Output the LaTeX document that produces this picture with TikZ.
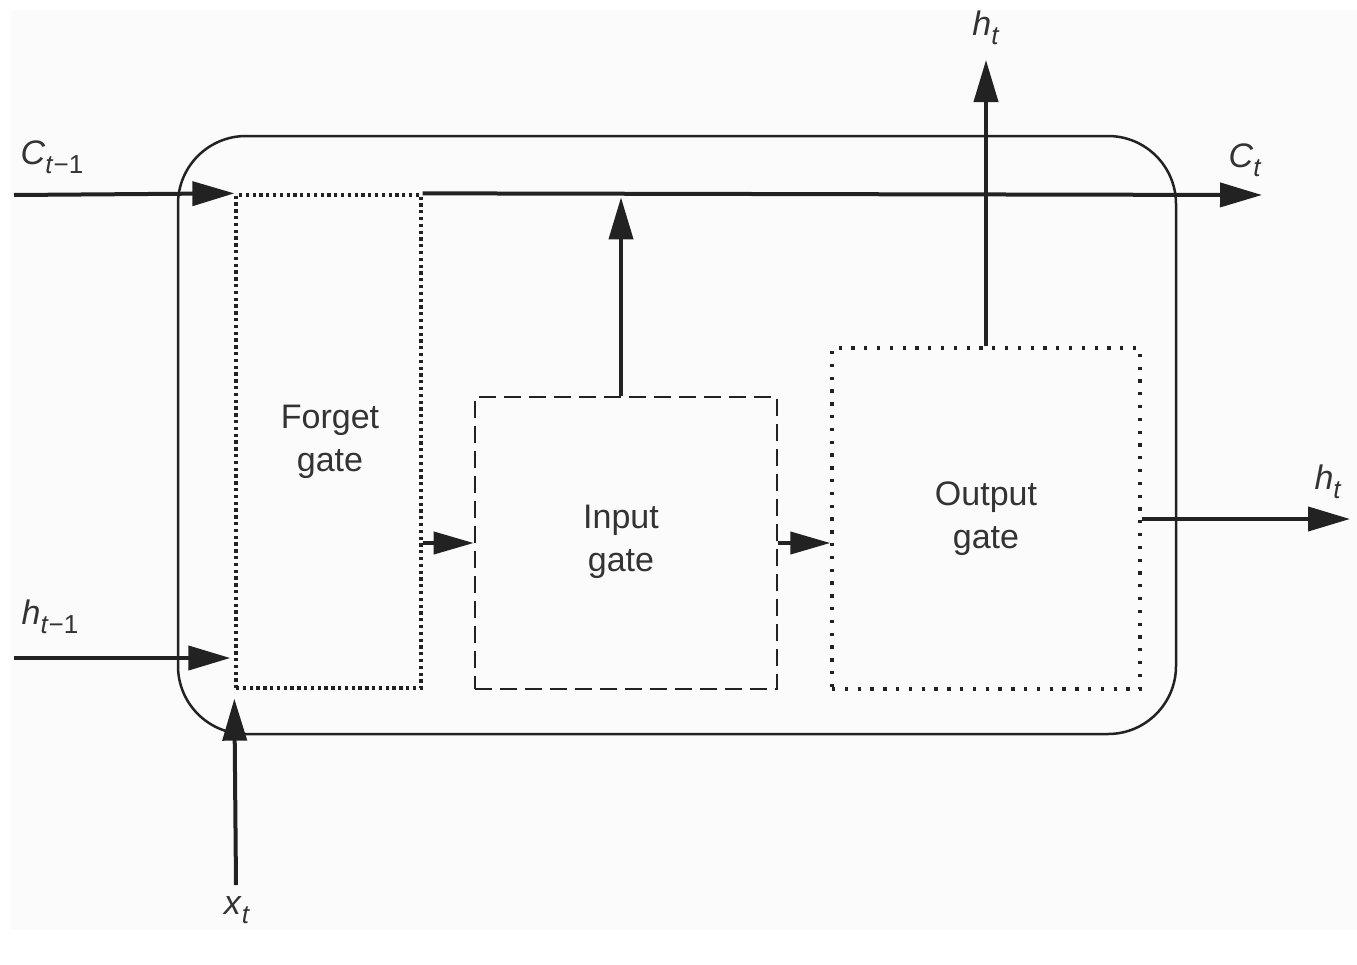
\documentclass[tikz,border=0pt]{standalone}
\usepackage{fontspec}
\setmainfont{Liberation Sans}
\usetikzlibrary{arrows.meta}
\definecolor{ink}{HTML}{222222}
\definecolor{txt}{HTML}{333333}
\definecolor{bg}{HTML}{FBFBFB}
\newcommand\mylbl[2]{\textit{#1}\raisebox{-9pt}{\fontsize{26}{26}\selectfont #2}}
\begin{document}
\begin{tikzpicture}[x=1pt,y=-1pt,
  arr/.style={draw=ink,line width=4pt,-{Triangle[length=42pt,width=24pt]}},
  sarr/.style={draw=ink,line width=4pt,-{Triangle[length=40pt,width=22pt]}},
  gatetxt/.style={font=\fontsize{34}{43}\selectfont,text=txt,align=center},
  forgetbox/.style={draw=ink,line width=3.3pt,dash pattern=on 3.3pt off 3.5pt,minimum width=185pt,minimum height=493pt,inner sep=0pt},
  inputbox/.style={draw=ink,line width=2.6pt,dash pattern=on 17pt off 8pt,minimum width=302pt,minimum height=292pt,inner sep=0pt},
  outputbox/.style={draw=ink,line width=3.3pt,dash pattern=on 3.3pt off 9.5pt,minimum width=308pt,minimum height=341pt,inner sep=0pt},
  cellbox/.style={draw=ink,line width=2.5pt,rounded corners=68pt,minimum width=998pt,minimum height=598pt,inner sep=0pt},
  lbl/.style={font=\fontsize{34}{34}\selectfont,text=txt,inner sep=0pt}]
\useasboundingbox (0,0) rectangle (1357,964);
\fill[bg] (11,10) rectangle (1357,930);
\node[cellbox] (cell) at (677,435) {};
\node[forgetbox] (forget) at (328.5,441.5) {};
\node[inputbox] (input) at (626,543) {};
\node[outputbox] (output) at (986,518.5) {};
\node[gatetxt] (ftxt) at (330,442) {Forget\\gate};
\node[gatetxt] (itxt) at (621,542) {Input\\gate};
\node[gatetxt] (otxt) at (986,519) {Output\\gate};
\coordinate (cin) at (14,195);
\coordinate (cout) at (1262,195);
\coordinate (hin) at (14,658);
\coordinate (xin) at (236,885);
\coordinate (hup) at (986,60);
\coordinate (hright) at (1350,519);
\draw[arr] (cin) -- (forget.north west);
\draw[arr] (forget.north east) -- (cout);
\draw[arr] (hin) -- ([xshift=-4pt]forget.west |- hin);
\draw[arr] (xin) -- ([yshift=-9pt]forget.south west);
\draw[sarr] (forget.east |- input.west) -- (input.west);
\draw[sarr] (input.east) -- (output.west |- input.east);
\draw[arr] ([xshift=-5pt]input.north) -- ([xshift=-5pt,yshift=-4pt]input.north |- forget.north);
\draw[arr] (output.north) -- (hup);
\draw[arr] (output.east |- hright) -- (hright);
\node[lbl] (lc0) at (52,157) {\mylbl{C}{\textit{t}−1}};
\node[lbl] (lh0) at (50,617) {\mylbl{h}{\textit{t}−1}};
\node[lbl] (lx) at (237,910) {\mylbl{x}{\textit{t}}};
\node[lbl] (lh1) at (986,28) {\mylbl{h}{\textit{t}}};
\node[lbl] (lc1) at (1245,160) {\mylbl{C}{\textit{t}}};
\node[lbl] (lh2) at (1328,482) {\mylbl{h}{\textit{t}}};
\end{tikzpicture}
\end{document}
